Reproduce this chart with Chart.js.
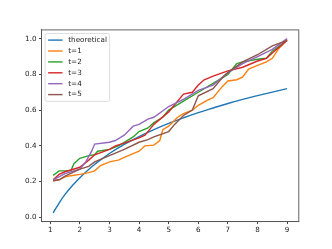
<!DOCTYPE html>
<html>
<head>
<meta charset="utf-8">
<script src="https://cdn.jsdelivr.net/npm/chart.js@4/dist/chart.umd.min.js"></script>
<style>
  html, body { margin: 0; padding: 0; background: #fff; }
  #wrap { width: 332px; height: 249px; }
</style>
</head>
<body>
<div id="wrap"><canvas id="c" width="332" height="249"></canvas></div>
<script>
// ── data ───────────────────────────────────────────────────
const xTicks = [1, 2, 3, 4, 5, 6, 7, 8, 9];
const yTicks = [0, 0.2, 0.4, 0.6, 0.8, 1.0];

const theoX = [1.1, 1.3, 1.5, 1.75, 2, 2.25, 2.5, 3, 3.5, 4, 4.5, 5, 5.5, 6, 6.5, 7, 7.5, 8, 8.5, 9];
const theoY = [0.025, 0.080, 0.128, 0.178, 0.222, 0.261, 0.296, 0.357, 0.408, 0.452, 0.491, 0.526,
               0.557, 0.586, 0.612, 0.637, 0.660, 0.681, 0.701, 0.720];

const t1X = [1.1, 1.3, 1.5, 1.7, 2, 2.3, 2.5, 2.7, 3, 3.3, 3.5, 3.8, 4, 4.2, 4.5, 4.7, 4.8, 5, 5.3, 5.5, 5.8, 6, 6.3, 6.5, 6.8, 7, 7.3, 7.5, 7.7, 8, 8.3, 8.5, 8.7, 9];
const t1Y = [0.205, 0.21, 0.227, 0.233, 0.24, 0.25, 0.26, 0.29, 0.31, 0.32, 0.335, 0.357, 0.37, 0.40, 0.404, 0.43, 0.49, 0.51, 0.56, 0.58, 0.60, 0.627, 0.655, 0.67, 0.73, 0.763, 0.77, 0.786, 0.83, 0.85, 0.87, 0.89, 0.94, 0.995];

const t2X = [1.1, 1.3, 1.5, 1.7, 1.8, 2, 2.3, 2.5, 2.6, 3, 3.3, 3.5, 3.8, 4, 4.3, 4.5, 4.8, 5, 5.5, 6, 6.5, 7, 7.3, 7.5, 8, 8.3, 8.5, 9];
const t2Y = [0.235, 0.26, 0.26, 0.262, 0.30, 0.33, 0.345, 0.35, 0.37, 0.38, 0.40, 0.42, 0.45, 0.48, 0.50, 0.53, 0.56, 0.60, 0.65, 0.70, 0.75, 0.80, 0.86, 0.87, 0.885, 0.89, 0.93, 0.99];

const t3X = [1.1, 1.3, 1.5, 2, 2.3, 2.5, 3, 3.2, 3.5, 4, 4.2, 4.5, 5, 5.5, 5.8, 6, 6.2, 6.5, 7, 7.5, 8, 8.3, 8.5, 9];
const t3Y = [0.21, 0.24, 0.255, 0.28, 0.32, 0.35, 0.38, 0.40, 0.415, 0.445, 0.46, 0.52, 0.59, 0.69, 0.70, 0.74, 0.77, 0.79, 0.82, 0.84, 0.875, 0.89, 0.92, 0.99];

const t4X = [1.1, 1.5, 2, 2.2, 2.4, 2.5, 3, 3.2, 3.5, 3.8, 4, 4.3, 4.5, 5, 5.5, 6, 6.5, 7, 7.5, 8, 8.5, 9];
const t4Y = [0.21, 0.245, 0.27, 0.31, 0.37, 0.41, 0.42, 0.43, 0.46, 0.51, 0.52, 0.55, 0.56, 0.62, 0.66, 0.71, 0.74, 0.81, 0.86, 0.90, 0.94, 1.0];

const t5X = [1.1, 1.3, 1.5, 2, 2.3, 2.5, 3, 3.5, 4, 4.3, 4.5, 5, 5.2, 5.5, 5.8, 6, 6.5, 6.8, 7, 7.5, 8, 8.5, 9];
const t5Y = [0.205, 0.21, 0.23, 0.27, 0.285, 0.31, 0.345, 0.38, 0.42, 0.435, 0.45, 0.48, 0.52, 0.57, 0.60, 0.68, 0.72, 0.78, 0.81, 0.87, 0.91, 0.96, 0.99];

const labels = ['theoretical', 't=1', 't=2', 't=3', 't=4', 't=5'];
const colors = ['#1f77b4', '#ff7f0e', '#2ca02c', '#d62728', '#9467bd', '#8c564b'];
const seriesX = [theoX, t1X, t2X, t3X, t4X, t5X];
const seriesY = [theoY, t1Y, t2Y, t3Y, t4Y, t5Y];

const FONT = 'DejaVu Sans';
const FS = 7.2;

// frame + legend drawn inside the plot area, matplotlib style
const framePlugin = {
  id: 'frame',
  afterDatasetsDraw(chart) {
    const { ctx, chartArea: a } = chart;
    ctx.save();
    ctx.strokeStyle = '#555';
    ctx.lineWidth = 0.9;
    ctx.strokeRect(a.left, a.top, a.right - a.left, a.bottom - a.top);

    // legend box
    const x0 = a.left + 3.6, y0 = a.top + 3.6, w = 64.6, rowH = 10.9;
    const h = rowH * labels.length + 2.5;
    ctx.fillStyle = 'rgba(255,255,255,0.8)';
    ctx.strokeStyle = '#d4d4d4';
    ctx.lineWidth = 0.8;
    ctx.beginPath();
    ctx.roundRect(x0, y0, w, h, 2);
    ctx.fill(); ctx.stroke();
    ctx.font = `${FS}px "${FONT}"`;
    ctx.textBaseline = 'middle';
    labels.forEach((lab, i) => {
      const yy = y0 + 6.6 + i * rowH;
      ctx.strokeStyle = colors[i];
      ctx.lineWidth = 1.4;
      ctx.beginPath();
      ctx.moveTo(x0 + 3, yy); ctx.lineTo(x0 + 17.4, yy);
      ctx.stroke();
      ctx.fillStyle = '#222';
      ctx.fillText(lab, x0 + 23.2, yy);
    });
    ctx.restore();
  }
};

new Chart(document.getElementById('c'), {
  type: 'line',
  data: {
    datasets: labels.map((lab, i) => ({
      label: lab,
      data: seriesX[i].map((x, k) => ({ x, y: seriesY[i][k] })),
      borderColor: colors[i],
      borderWidth: 1.4,
      pointRadius: 0,
      tension: i === 0 ? 0.4 : 0,
      fill: false,
      order: labels.length - 1 - i
    }))
  },
  options: {
    responsive: false,
    animation: false,
    layout: { padding: { top: 29.9, right: 33.2, left: 0, bottom: 0 } },
    plugins: { legend: { display: false }, tooltip: { enabled: false } },
    scales: {
      x: {
        type: 'linear', min: 0.705, max: 9.395,
        afterBuildTicks: ax => { ax.ticks = xTicks.map(v => ({ value: v })); },
        afterFit: ax => { ax.height = 27.4; },
        ticks: { font: { family: FONT, size: FS }, color: '#222', padding: 2, maxRotation: 0 },
        grid: { drawOnChartArea: false, drawTicks: true, tickLength: 2.5, color: '#444' },
        border: { color: '#555', width: 0.9 }
      },
      y: {
        type: 'linear', min: -0.024, max: 1.049,
        afterBuildTicks: ax => { ax.ticks = yTicks.map(v => ({ value: v })); },
        afterFit: ax => { ax.width = 41.5; },
        ticks: { font: { family: FONT, size: FS }, color: '#222', padding: 2.5,
                 callback: v => v.toFixed(1) },
        grid: { drawOnChartArea: false, drawTicks: true, tickLength: 2.5, color: '#444' },
        border: { color: '#555', width: 0.9 }
      }
    }
  },
  plugins: [framePlugin]
});
</script>
</body>
</html>
